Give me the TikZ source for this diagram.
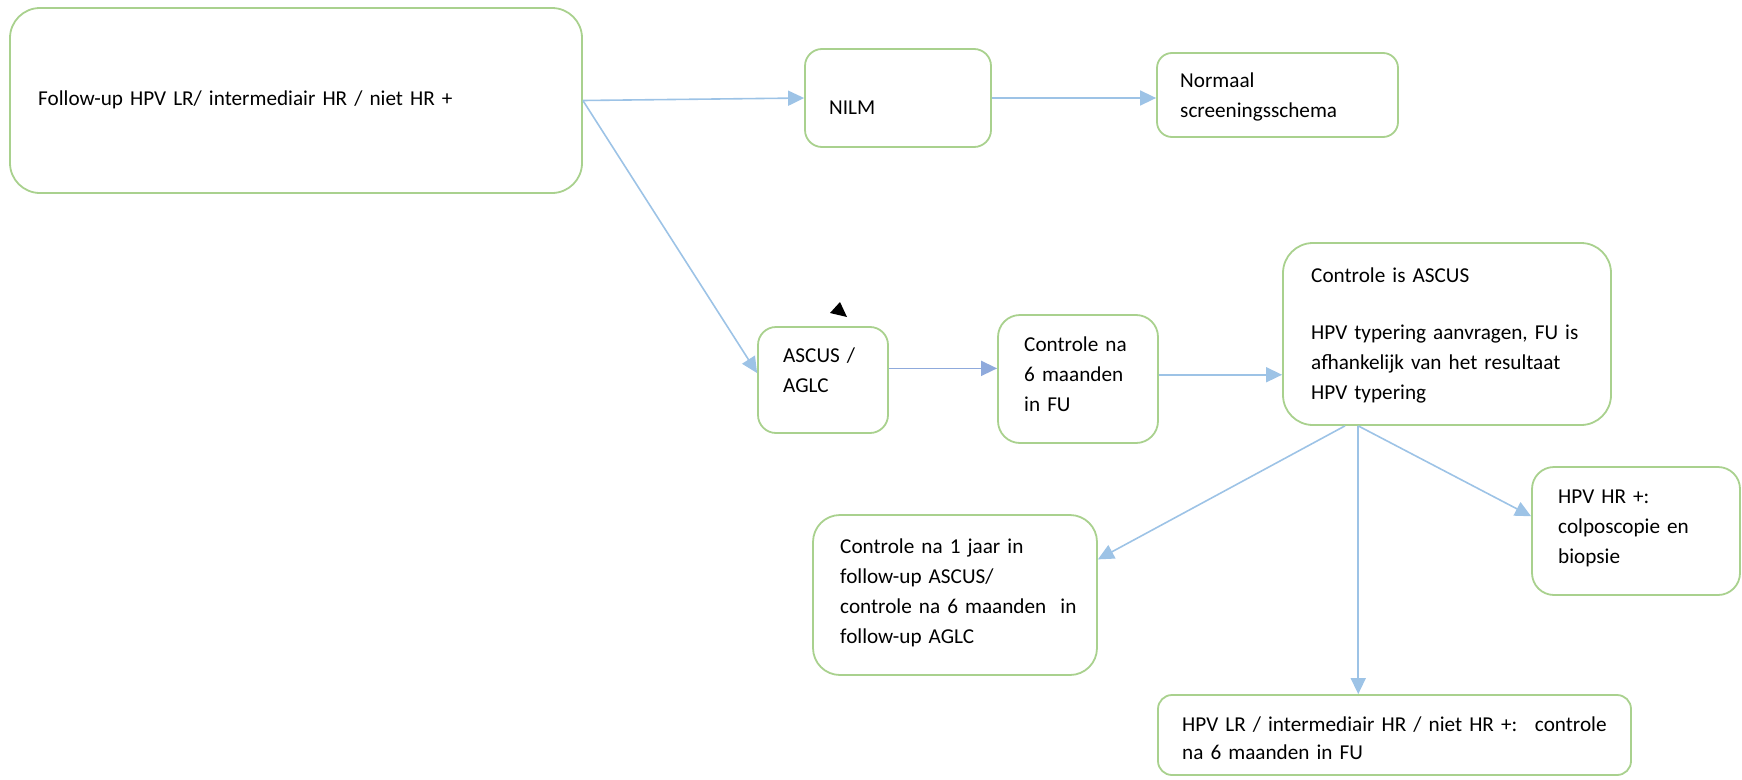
\documentclass[tikz,border=0pt]{standalone}
\usepackage{fontspec}
\setmainfont{Carlito}
\usetikzlibrary{arrows.meta}
\definecolor{kadergroen}{HTML}{A9D18E}
\definecolor{pijlblauw}{HTML}{9DC3E6}
\definecolor{pijldonker}{HTML}{8FAADC}
\newcommand{\tekstfont}{\fontsize{21.2pt}{30pt}\selectfont}

\begin{document}
\begin{tikzpicture}[x=1pt, y=-1pt,
  kader/.style={draw=kadergroen, line width=1.8pt, rounded corners=#1},
  tekst/.style={anchor=base west, inner sep=0pt, align=left, text width=#1},
  pijl/.style={draw=pijlblauw, line width=1.6pt, -{Triangle[length=16pt,width=15pt]}}]
    \tikzstyle{every node}=[font=\tekstfont]
    \useasboundingbox (0,0) rectangle (1742,779);

    % kaders
    \node[kader=30pt, minimum width=572pt, minimum height=185pt] (fu) at (296,100.5) {};
    \node[kader=17pt, minimum width=186pt, minimum height=98pt] (nilm) at (898,98) {};
    \node[kader=15pt, minimum width=241pt, minimum height=84pt] (normaal) at (1277.5,95) {};
    \node[kader=18pt, minimum width=130pt, minimum height=106pt] (ascus) at (823,380) {};
    \node[kader=22pt, minimum width=160pt, minimum height=128pt] (ctrl6) at (1078,379) {};
    \node[kader=30pt, minimum width=328pt, minimum height=182pt] (ascres) at (1447,334) {};
    \node[kader=27pt, minimum width=284pt, minimum height=160pt] (jaar) at (955,595) {};
    \node[kader=22pt, minimum width=208pt, minimum height=128pt] (hrpos) at (1636,531) {};
    \node[kader=14pt, minimum width=473pt, minimum height=80pt] (hrneg) at (1394.5,735) {};

    % teksten
    \node[tekst=520pt] (fut) at (38,105) {Follow-up HPV LR/ intermediair HR / niet HR +};
    \node[tekst=140pt] (nilmt) at (829,114) {NILM};
    \node[tekst=210pt] (normaalt) at (1180,87) {Normaal\\screeningsschema};
    \node[tekst=100pt] (ascust) at (783,362) {ASCUS /\\AGLC};
    \node[tekst=130pt] (ctrl6t) at (1024,351) {Controle na\\6 maanden\\in FU};
    \node[tekst=290pt] (ascrest) at (1311,282)
      {Controle is ASCUS\\[27pt]HPV typering aanvragen, FU is\\afhankelijk van het resultaat\\HPV typering};
    \node[tekst=250pt] (jaart) at (840,553)
      {Controle na 1 jaar in\\follow-up ASCUS/\\controle na 6 maanden~ in\\follow-up AGLC};
    \node[tekst=180pt] (hrpost) at (1558,503) {HPV HR +:\\colposcopie en\\biopsie};
    \node[tekst=440pt] (hrnegt) at (1182,731)
      {HPV LR / intermediair HR / niet HR +:~ controle\\[-2pt]na 6 maanden in FU};

    % pijlen
    \draw[pijl] (fu.east) -- (nilm.west);
    \draw[pijl] (fu.east) -- (ascus.174);
    \draw[pijl] (nilm.east) -- (nilm.east -| normaal.west);
    \draw[pijl, draw=pijldonker] (ascus.10) -- (ascus.10 -| ctrl6.west);
    \draw[pijl] (ctrl6.3) -- (ctrl6.3 -| ascres.west);
    \draw[pijl] (ascres.222) -- (jaar.14);
    \draw[pijl] (ascres.226) -- (ascres.226 |- hrneg.north);
    \draw[pijl] (ascres.226) -- (hrpos.172);

    % losse pijlpunt
    \fill[black] (840,302) -- (830,313) -- (847,317) -- cycle;
\end{tikzpicture}
\end{document}
